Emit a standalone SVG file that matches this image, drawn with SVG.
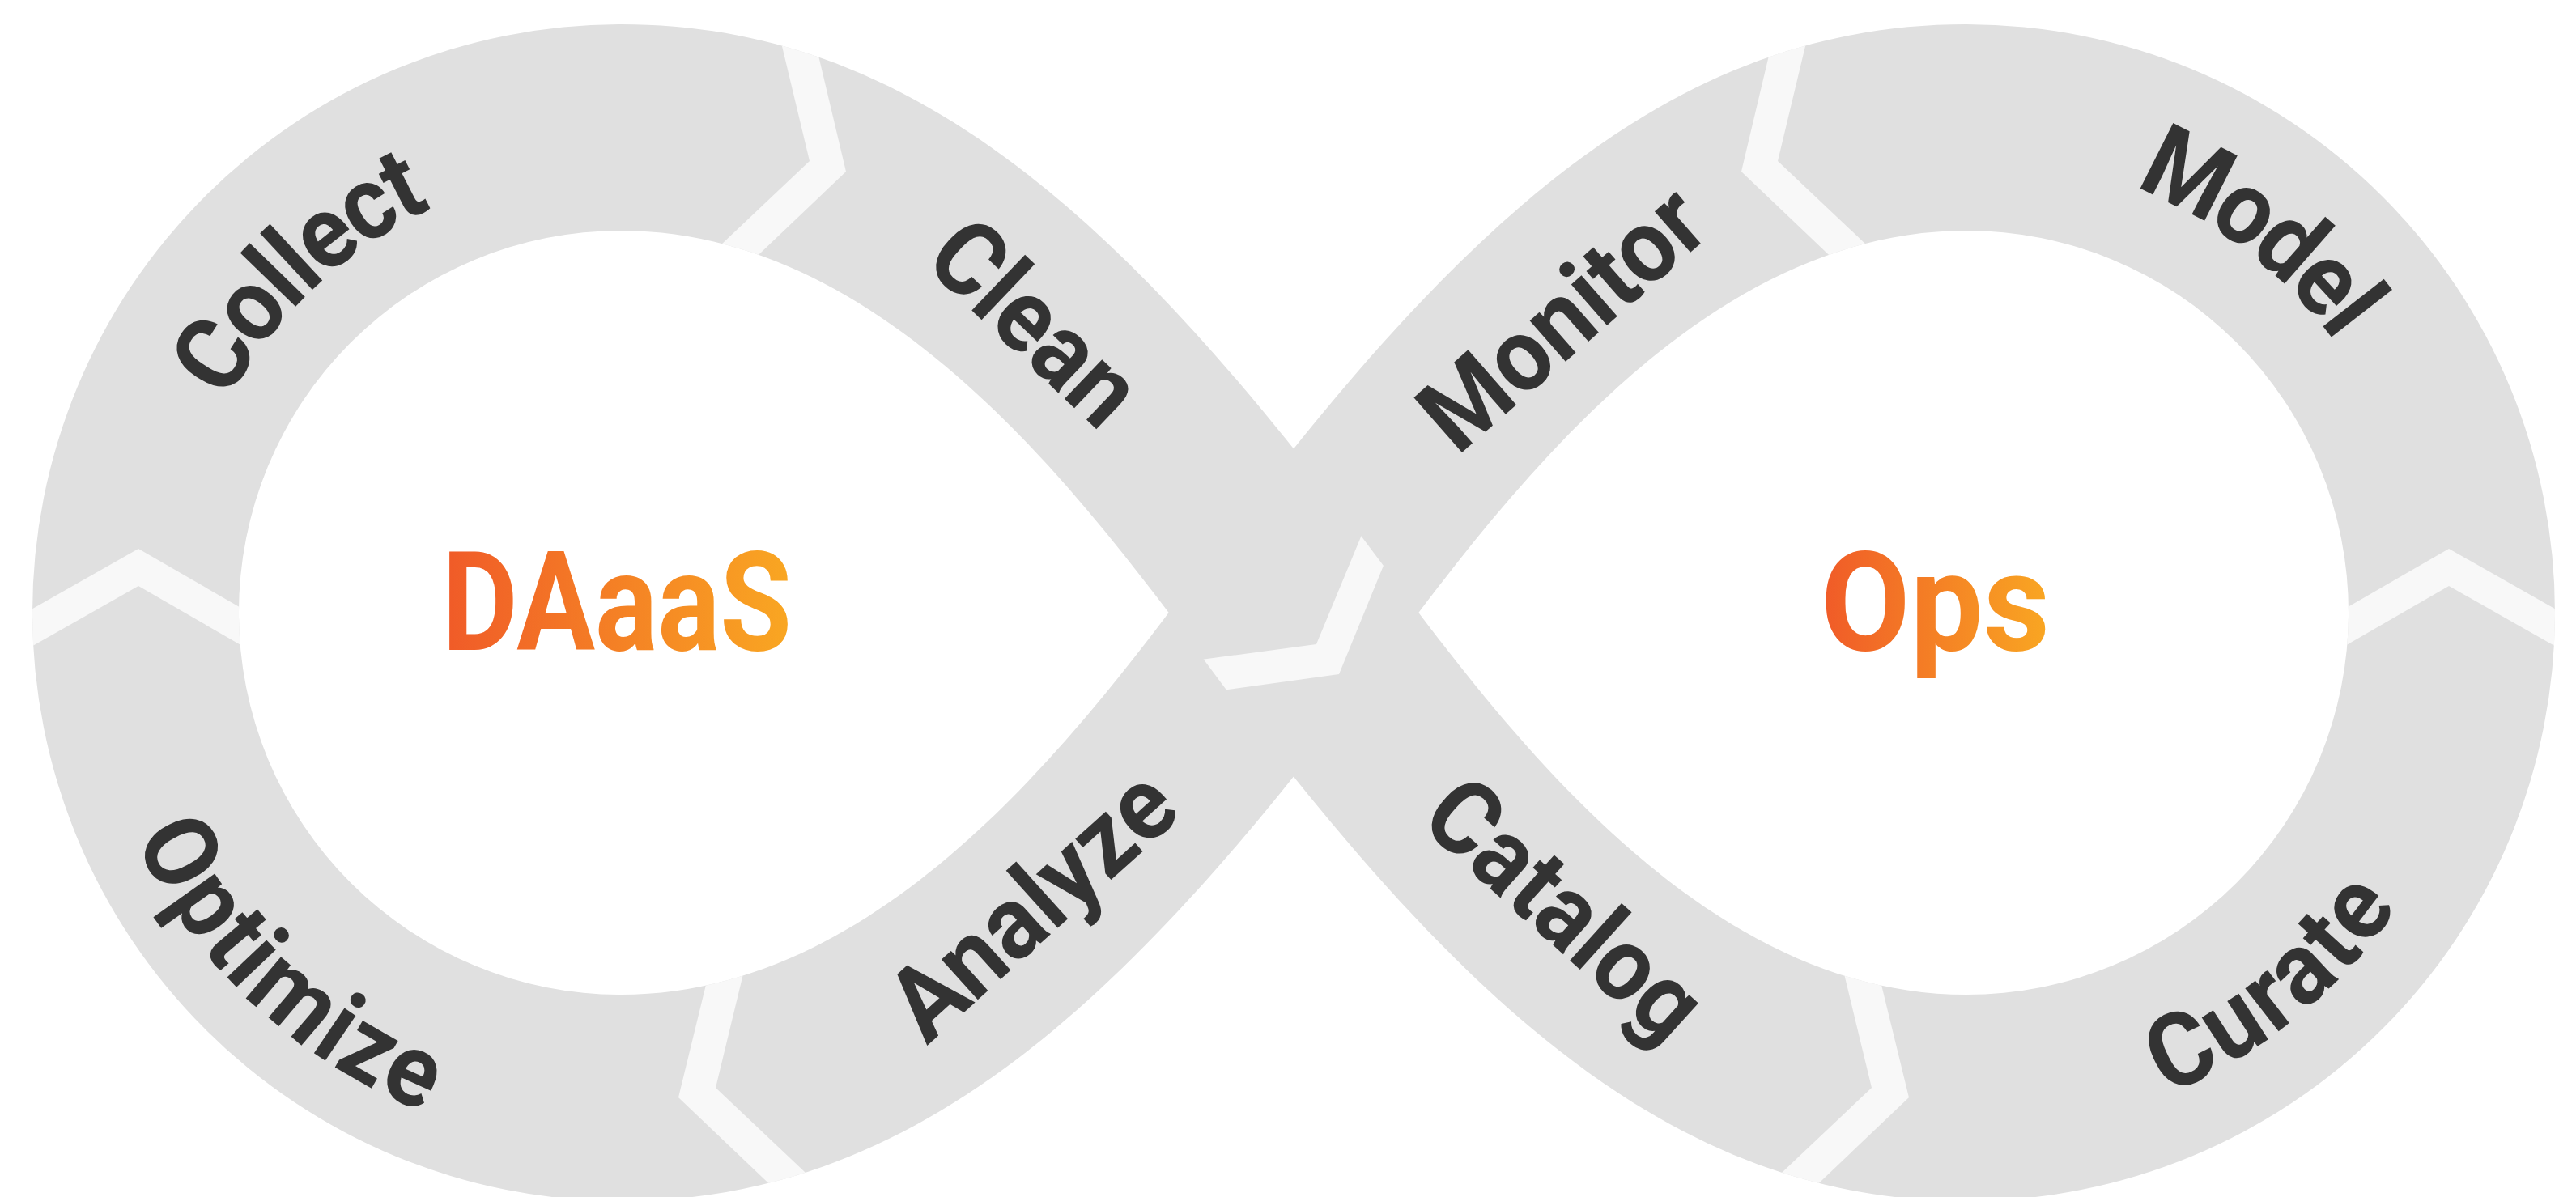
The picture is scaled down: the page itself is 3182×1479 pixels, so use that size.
<svg xmlns="http://www.w3.org/2000/svg" width="3182" height="1479" viewBox="0 0 3182 1479">
<style>
.band{fill:#E0E0E0}
.chev{fill:#F8F8F8}
.lbl{font-family:Roboto,"Liberation Sans",sans-serif;font-weight:700;font-size:127px;fill:#333333}
.title{font-family:Roboto,"Liberation Sans",sans-serif;font-weight:700;font-size:171px}
</style>
<defs>
<linearGradient id="og" x1="0" y1="0" x2="1" y2="0">
<stop offset="0" stop-color="#F05A28"/>
<stop offset="1" stop-color="#F9A722"/>
</linearGradient>
<path id="loopL" d="M767,30 A727,727 0 0 0 767,1484 L767,1229 A472,472 0 0 1 767,285 Z"/>
<path id="loopR" d="M2429,30 A727,727 0 0 1 2429,1484 L2429,1229 A472,472 0 0 0 2429,285 Z"/>
<path id="bandA" d="M767,30 C1117,30 1376,257.5 1676,655 C1826,853.75 2079,1229 2429,1229 L2429,1484 C2079,1484 1820,1256.5 1520,859 C1370,660.25 1117,285 767,285 Z"/>
<path id="bandB" d="M2429,30 C2079,30 1820,257.5 1520,655 C1370,853.75 1117,1229 767,1229 L767,1484 C1117,1484 1376,1256.5 1676,859 C1826,660.25 2079,285 2429,285 Z"/>
<clipPath id="clipAll">
<use href="#loopL"/><use href="#loopR"/><use href="#bandA"/><use href="#bandB"/>
</clipPath>
<clipPath id="clipA"><use href="#bandA"/></clipPath>
<path id="pCollect" d="M177.3,739.5 A590,590 0 0 1 784.5,167.3"/>
<path id="pModel" d="M2352.4,158.9 A603,603 0 0 1 3027.1,680.4"/>
<path id="pOptimize" d="M142.3,775.5 A625,625 0 0 0 785.5,1381.7"/>
<path id="pCurate" d="M2366.6,1360.8 A607,607 0 0 0 3032.8,819.4"/>
<path id="pClean" d="M1058,195 L1492,609"/>
<path id="pCatalog" d="M1707,926 L2153,1328"/>
<path id="pMonitor" d="M1707.4,594.7 L2158.6,199.3"/>
<path id="pAnalyze" d="M1055,1322 L1501,920"/>
</defs>
<rect width="3182" height="1479" fill="#FFFFFF"/>
<g id="infinity-loop">
<use href="#loopL" class="band"/>
<use href="#loopR" class="band"/>
<use href="#bandB" class="band"/>
<use href="#bandA" class="band"/>
</g>
<g id="connectors">
<g clip-path="url(#clipAll)">
<polygon class="chev" points="0,775 171,678 340,775.5 340,821.5 171,724 0,821"/>
<polygon class="chev" points="3196,775 3025,678 2856,775.5 2856,821.5 3025,724 3196,821"/>
<polygon class="chev" points="948,-18 1000,199 834,356 878,371 1045,212 994,-3"/>
<polygon class="chev" points="2248,-18 2196,199 2362,356 2318,371 2151,212 2202,-3"/>
<polygon class="chev" points="891,1139 838,1356 1005,1515 1049,1500 884,1344 937,1125"/>
<polygon class="chev" points="2305,1139 2358,1356 2191,1515 2147,1500 2312,1344 2259,1125"/>
</g>
<g clip-path="url(#clipA)">
<polygon class="chev" points="1424,823 1626,796 1704,608 1731,645 1654,833 1452,861"/>
</g>
</g>
<g id="collect"><text class="lbl" dy="0.3em"><textPath href="#pCollect" startOffset="50%" text-anchor="middle" textLength="374" lengthAdjust="spacingAndGlyphs">Collect</textPath></text></g>
<g id="clean"><text class="lbl" dy="0.3em"><textPath href="#pClean" startOffset="50%" text-anchor="middle" textLength="304" lengthAdjust="spacingAndGlyphs">Clean</textPath></text></g>
<g id="catalog"><text class="lbl" dy="0.3em"><textPath href="#pCatalog" startOffset="50%" text-anchor="middle" textLength="413" lengthAdjust="spacingAndGlyphs">Catalog</textPath></text></g>
<g id="curate"><text class="lbl" dy="0.3em"><textPath href="#pCurate" startOffset="50%" text-anchor="middle" textLength="355" lengthAdjust="spacingAndGlyphs">Curate</textPath></text></g>
<g id="model"><text class="lbl" dy="0.3em"><textPath href="#pModel" startOffset="50%" text-anchor="middle" textLength="334" lengthAdjust="spacingAndGlyphs">Model</textPath></text></g>
<g id="monitor"><text class="lbl" dy="0.3em"><textPath href="#pMonitor" startOffset="50%" text-anchor="middle" textLength="420" lengthAdjust="spacingAndGlyphs">Monitor</textPath></text></g>
<g id="analyze"><text class="lbl" dy="0.3em"><textPath href="#pAnalyze" startOffset="50%" text-anchor="middle" textLength="427" lengthAdjust="spacingAndGlyphs">Analyze</textPath></text></g>
<g id="optimize"><text class="lbl" dy="0.3em"><textPath href="#pOptimize" startOffset="50%" text-anchor="middle" textLength="479" lengthAdjust="spacingAndGlyphs">Optimize</textPath></text></g>
<g id="daaas"><text class="title" x="546" y="803" textLength="432" lengthAdjust="spacingAndGlyphs" fill="url(#og)">DAaaS</text></g>
<g id="ops"><text class="title" x="2249" y="803" textLength="283" lengthAdjust="spacingAndGlyphs" fill="url(#og)">Ops</text></g>
</svg>
